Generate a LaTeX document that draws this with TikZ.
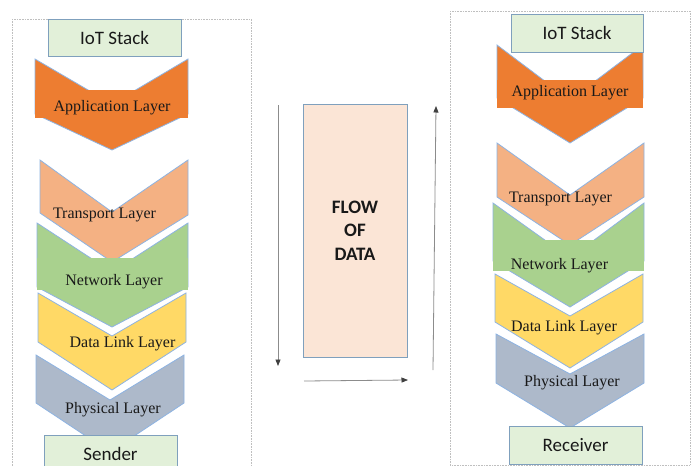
\documentclass[tikz,border=0pt]{standalone}
\usepackage{fontspec}
\setmainfont{Liberation Serif}
\newfontfamily\boxfont{Carlito}
\usetikzlibrary{arrows.meta}

\definecolor{appC}{HTML}{ED7D31}
\definecolor{trC}{HTML}{F4B183}
\definecolor{netC}{HTML}{A9D18E}
\definecolor{dlC}{HTML}{FFD966}
\definecolor{phC}{HTML}{ADB9CA}
\definecolor{boxC}{HTML}{E2F0D9}
\definecolor{boxE}{HTML}{7FA0BD}
\definecolor{edgeC}{HTML}{8DB3E2}
\definecolor{flowC}{HTML}{FBE5D6}
\definecolor{frameC}{HTML}{BFBFBF}
\definecolor{arrC}{HTML}{8C8C8C}

\begin{document}
\begin{tikzpicture}[x=1pt,y=-1pt,
  chev/.style={draw=edgeC, line width=0.8pt, line join=miter},
  lbl/.style={font=\fontsize{16}{18}\selectfont, text=black!90, inner sep=0pt},
  endbox/.style={draw=boxE, fill=boxC, line width=0.9pt,
    font=\boxfont\fontsize{19}{22}\selectfont, inner sep=0pt, text=black!90},
  frame/.style={draw=frameC, line width=0.6pt, densely dotted},
  flowarrow/.style={-{Triangle[length=6.5pt,width=5pt,color=black!75]},
    draw=arrC, line width=0.8pt}
]
\useasboundingbox (0,0) rectangle (694,466);
\clip (0,0) rectangle (694,466);
\fill[white] (0,0) rectangle (694,466);

% outer frames of the two stacks
\draw[frame] (12,19) rectangle (251,490);
\draw[frame] (450,11) rectangle (690,465);

% ---------- sender stack ----------
\draw[chev, fill=appC] (35,59) -- (112,104) -- (188,59) -- (188,114) -- (112,150) -- (35,114) -- cycle;
\fill[appC] (35,90) rectangle (188,118);

\draw[chev, fill=trC] (40,160) -- (112,212) -- (188,160) -- (188,215) -- (112,262) -- (40,213) -- cycle;

\draw[chev, fill=netC] (37,223) -- (112,272) -- (188,223) -- (188,287) -- (112,327) -- (37,287) -- cycle;
\fill[netC] (37,258) rectangle (188,290);

\draw[chev, fill=dlC] (38,293) -- (112,336) -- (186,293) -- (186,342) -- (112,390) -- (38,342) -- cycle;

\draw[chev, fill=phC] (36,355) -- (110,400) -- (184,355) -- (184,403) -- (110,452) -- (36,403) -- cycle;

\node[lbl] (lapp) at (112,108) {Application Layer};
\node[lbl] (ltr)  at (104.5,215) {Transport Layer};
\node[lbl] (lnet) at (114,282) {Network Layer};
\node[lbl] (ldl)  at (122.5,344) {Data Link Layer};
\node[lbl] (lph)  at (113,410) {Physical Layer};

\node[endbox, minimum width=133pt, minimum height=37pt] (lstack) at (114.5,37.5) {IoT Stack};
\node[endbox, minimum width=133pt, minimum height=40pt, anchor=north] (sender) at (110.5,435) {};
\node[font=\boxfont\fontsize{19}{22}\selectfont, text=black!90, inner sep=0pt] (sendertxt) at (110.5,454) {Sender};

% ---------- receiver stack ----------
\draw[chev, fill=appC] (497,45) -- (570,100) -- (643,45) -- (643,98) -- (570,143) -- (497,98) -- cycle;
\fill[appC] (497,80) rectangle (643,108);

\draw[chev, fill=trC] (497,143) -- (570,195) -- (644,143) -- (644,197) -- (570,245) -- (497,197) -- cycle;

\draw[chev, fill=netC] (493,203) -- (570,258) -- (644,203) -- (644,261) -- (570,307) -- (493,261) -- cycle;
\fill[netC] (493,240) rectangle (644,271);

\draw[chev, fill=dlC] (495,274) -- (570,316) -- (643,274) -- (643,322) -- (570,368) -- (495,322) -- cycle;

\draw[chev, fill=phC] (496,334) -- (570,374) -- (644,334) -- (644,383) -- (570,428) -- (496,383) -- cycle;

\node[lbl] (rapp) at (570,93) {Application Layer};
\node[lbl] (rtr)  at (560.5,199) {Transport Layer};
\node[lbl] (rnet) at (559.5,266) {Network Layer};
\node[lbl] (rdl)  at (564,328) {Data Link Layer};
\node[lbl] (rph)  at (572,383) {Physical Layer};

\node[endbox, minimum width=132pt, minimum height=38pt] (rstack) at (577,33) {IoT Stack};
\node[endbox, minimum width=133pt, minimum height=38pt] (receiver) at (575.5,445) {Receiver};

% ---------- flow of data ----------
\node[draw=boxE, fill=flowC, line width=0.9pt, minimum width=104pt, minimum height=253pt,
  inner sep=0pt, align=center, text=black!90,
  font=\boxfont\bfseries\fontsize{19}{23.5}\selectfont] (flow) at (355,230.5) {FLOW\\OF\\DATA};

\coordinate (downA) at (278,105);
\coordinate (downB) at (278,366);
\coordinate (rightA) at (304,381);
\coordinate (rightB) at (408,380);
\coordinate (upA) at (433,370);
\coordinate (upB) at (436,106);

\draw[flowarrow] (downA) -- (downB);
\draw[flowarrow] (rightA) -- (rightB);
\draw[flowarrow] (upA) -- (upB);
\end{tikzpicture}
\end{document}
